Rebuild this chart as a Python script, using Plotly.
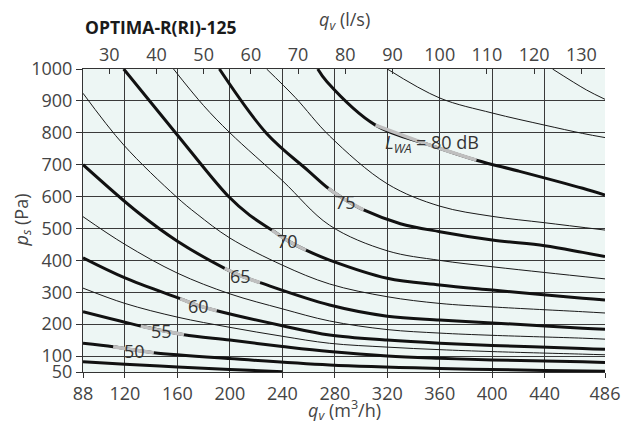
import plotly.graph_objects as go

# ---- axis ticks ----
flow_ticks_m3h = [88, 120, 160, 200, 240, 280, 320, 360, 400, 440, 486]
flow_ticks_ls = [30, 40, 50, 60, 70, 80, 90, 100, 110, 120, 130]
pressure_ticks = [50, 100, 200, 300, 400, 500, 600, 700, 800, 900, 1000]

# ---- thick sound-level curves (q in m3/h, p in Pa) ----
q_45 = [88, 120, 160, 200, 240]
p_45 = [82, 74, 66, 58, 51]
q_50 = [88, 111, 127, 142, 200, 276, 360, 440, 486]
p_50 = [140, 129, 119, 110.5, 92, 72, 61, 55, 52]
q_55 = [88, 132, 148, 165, 200, 240, 276, 320, 360, 400, 469, 486]
p_55 = [239, 194, 180, 167, 150, 130, 114, 100, 93, 88, 82, 80]
q_60 = [88, 120, 162, 176, 190, 240, 276, 320, 360, 400, 469, 486]
p_60 = [408, 345, 280, 258, 242, 195, 166, 150, 140, 133, 124, 121]
q_65 = [88, 130, 160, 196, 208, 223, 276, 320, 360, 400, 469, 486]
p_65 = [700, 550, 460, 375, 352, 330, 260, 225, 213, 204, 187, 184]
q_70 = [119, 159, 199, 215, 232, 244, 258, 276, 320, 360, 400, 469, 486]
p_70 = [1000, 798, 600, 542, 495, 462, 432, 401, 344, 323, 307, 281, 276]
q_75 = [192, 228, 260, 275, 288, 302, 330, 360, 400, 440, 469, 486]
p_75 = [1000, 798, 680, 626, 590, 558, 515, 490, 464, 446, 425, 412]
q_80 = [267, 274, 311, 352, 388, 420, 469, 486]
p_80 = [1000, 960, 824, 762, 714, 680, 626, 605]

# index range (inclusive) of each curve that is drawn grey behind its label
gray_50 = (1, 3)
gray_55 = (1, 3)
gray_60 = (2, 4)
gray_65 = (3, 5)
gray_70 = (4, 6)
gray_75 = (3, 5)
gray_80 = (2, 4)

# ---- thin intermediate curves ----
q_a = [88, 119, 159, 175, 200, 240, 276, 320, 360, 400, 469, 486]
p_a = [924, 762, 600, 545, 470, 385, 326, 286, 265, 254, 239, 235]
q_b = [88, 120, 160, 200, 240, 276, 320, 360, 400, 469, 486]
p_b = [537, 450, 360, 295, 248, 210, 183, 172, 165, 156, 153]
q_c = [88, 120, 160, 200, 240, 276, 320, 360, 400, 469, 486]
p_c = [313, 265, 222, 190, 162, 140, 128, 120, 114, 106, 104]
q_d = [157, 180, 200, 240, 276, 320, 360, 400, 440, 486]
p_d = [1000, 885, 800, 650, 510, 430, 400, 380, 362, 342]
q_e = [228, 250, 276, 320, 360, 400, 440, 486]
p_e = [1000, 910, 790, 640, 570, 538, 518, 495]
q_f = [320, 360, 400, 440, 469, 486]
p_f = [1000, 909, 862, 824, 798, 785]
q_g = [446, 472, 486]
p_g = [1000, 934, 905]

# ---- curve labels ----
label_text = ["50", "55", "60", "65", "70", "75", "<i>L</i><sub><i>WA</i></sub> = 80 dB"]
label_q = [127, 148, 176, 208, 244, 288, 354]
label_p = [117, 180, 257, 352, 460, 584, 766]

FONT = "Open Sans"
fig = go.Figure()

thin = [(q_a, p_a), (q_b, p_b), (q_c, p_c), (q_d, p_d), (q_e, p_e), (q_f, p_f), (q_g, p_g)]
for q, p in thin:
    fig.add_trace(go.Scatter(x=q, y=p, mode="lines", line=dict(color="#1a1a1a", width=1, shape="spline", smoothing=1.0),
                             hoverinfo="skip", showlegend=False))

thick = [(q_45, p_45, None), (q_50, p_50, gray_50), (q_55, p_55, gray_55), (q_60, p_60, gray_60),
         (q_65, p_65, gray_65), (q_70, p_70, gray_70), (q_75, p_75, gray_75), (q_80, p_80, gray_80)]
for q, p, g in thick:
    fig.add_trace(go.Scatter(x=q, y=p, mode="lines", line=dict(color="#111111", width=3, shape="spline", smoothing=1.0),
                             hoverinfo="skip", showlegend=False))
    if g is not None:
        i0, i1 = g
        fig.add_trace(go.Scatter(x=q[i0:i1 + 1], y=p[i0:i1 + 1], mode="lines",
                                 line=dict(color="#bfbfbf", width=3.4, shape="spline", smoothing=1.0),
                                 hoverinfo="skip", showlegend=False))

# invisible trace to activate top axis
fig.add_trace(go.Scatter(x=[flow_ticks_ls[0]], y=[pressure_ticks[-1]], xaxis="x2", mode="markers",
                         marker=dict(opacity=0), hoverinfo="skip", showlegend=False))

for t, q, p in zip(label_text, label_q, label_p):
    fig.add_annotation(x=q, y=p, text=t, showarrow=False, xanchor="center", yanchor="middle",
                       font=dict(family=FONT, size=18, color="#333333"))

tickfont = dict(family=FONT, size=18, color="#444444")
gridc = "#3a3a3a"
fig.update_layout(
    width=632, height=423,
    margin=dict(l=83, r=19, t=69, b=51),
    paper_bgcolor="white", plot_bgcolor="#edf6f4",
    xaxis=dict(range=[88, 486], tickmode="array", tickvals=flow_ticks_m3h, ticks="outside", ticklen=5,
               tickcolor="#333", showgrid=True, gridcolor=gridc, gridwidth=1, showline=True, linecolor="#333",
               linewidth=1, zeroline=False, tickfont=tickfont),
    xaxis2=dict(range=[88 / 3.6, 486 / 3.6], overlaying="x", side="top", tickmode="array", tickvals=flow_ticks_ls,
                ticks="inside", ticklen=5, tickcolor="#333", showgrid=False, showline=True, linecolor="#333",
                linewidth=1, zeroline=False, tickfont=tickfont),
    yaxis=dict(range=[50, 1000], tickmode="array", tickvals=pressure_ticks, ticks="outside", ticklen=6,
               tickcolor="#333", showgrid=True, gridcolor=gridc, gridwidth=1, showline=True, linecolor="#333",
               linewidth=1, zeroline=False, tickfont=tickfont),
)

fig.add_annotation(xref="paper", yref="paper", x=0, y=1, xanchor="left", yanchor="middle", yshift=42,
                   text="<b>OPTIMA-R(RI)-125</b>", showarrow=False, font=dict(family=FONT, size=17.5, color="#1a1a1a"))
fig.add_annotation(xref="paper", yref="paper", x=0.5, y=1, xanchor="center", yanchor="middle", yshift=49,
                   text="<i>q</i><sub><i>v</i></sub> (l/s)", showarrow=False, font=dict(family=FONT, size=18, color="#444444"))
fig.add_annotation(xref="paper", yref="paper", x=0.5, y=0, xanchor="center", yanchor="middle", yshift=-38,
                   text="<i>q</i><sub><i>v</i></sub> (m<sup>3</sup>/h)", showarrow=False,
                   font=dict(family=FONT, size=18, color="#444444"))
fig.add_annotation(xref="paper", yref="paper", x=0, y=0.5, xanchor="center", yanchor="middle", xshift=-61,
                   textangle=-90, text="<i>p</i><sub><i>s</i></sub> (Pa)", showarrow=False,
                   font=dict(family=FONT, size=18, color="#444444"))

fig.write_html("out.html")
